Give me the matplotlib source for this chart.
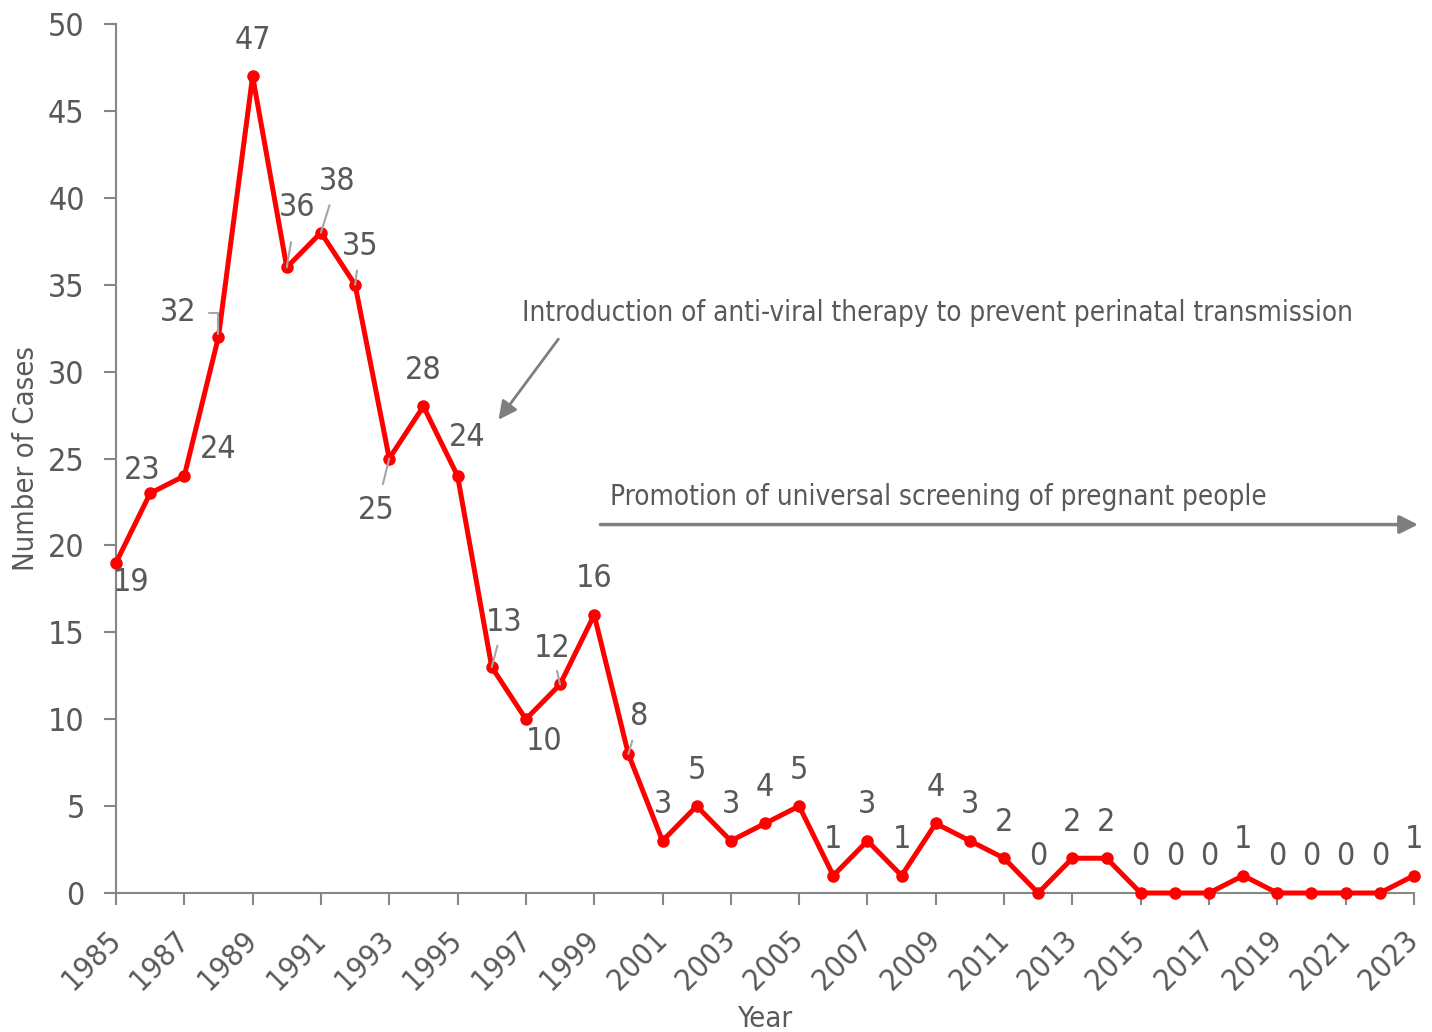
"""
Perinatal cases by year, 1985-2023
"""

import matplotlib
matplotlib.use('Agg')
import matplotlib.pyplot as plt
from matplotlib import font_manager

years = list(range(1985, 2024))
cases = [19, 23, 24, 32, 47, 36, 38, 35, 25, 28,
         24, 13, 10, 12, 16, 8, 3, 5, 3, 4,
         5, 1, 3, 1, 4, 3, 2, 0, 2, 2,
         0, 0, 0, 1, 0, 0, 0, 0, 1]

# label offsets in pixels (dx, dy); default sits above the point
label_offsets = {
    1985: (15, -20), 1986: (-8, 23), 1987: (34, 26), 1988: (-40, 24),
    1990: (10, 60), 1991: (16, 51), 1992: (5, 38), 1993: (-13, -52),
    1995: (10, 38), 1996: (12, 45), 1997: (18, -22), 1998: (-8, 36),
    2000: (11, 37),
}
# leader lines: year -> gap (points) left between label and line
leader_gap = {1990: 12, 1991: 4, 1992: 4, 1993: 6, 1996: 4, 1998: 3, 2000: 4}

therapy_text = 'Introduction of anti-viral therapy to prevent perinatal transmission'
screening_text = 'Promotion of universal screening of pregnant people'

TEXT = '#595959'
AXIS = '#868686'
RED = '#FF0000'

# the original uses a narrow font; take one if there is any, else Liberation Sans
narrow = [f for f in font_manager.fontManager.ttflist
          if ('Narrow' in f.name or 'Condensed' in f.name
              or f.stretch in ('condensed', 'semi-condensed', 'extra-condensed'))
          and 'Mono' not in f.name and 'Serif' not in f.name]
if narrow:
    plt.rcParams['font.family'] = [narrow[0].name, 'DejaVu Sans']
    plt.rcParams['font.stretch'] = narrow[0].stretch
    scale = 1.0
else:
    plt.rcParams['font.family'] = ['Liberation Sans', 'DejaVu Sans']
    scale = 1.05

fs_ytick = 23 * scale
fs_xtick = 22 * scale
fs_label = 21 * scale
fs_note = 20 * scale
fs_data = 23 * scale

fig = plt.figure(figsize=(14.32, 10.32), dpi=100)
ax = fig.add_axes([0.081, 0.1347, 0.9064, 0.842])

ax.plot(years, cases, color=RED, linewidth=3.6, marker='o', markersize=8,
        solid_joinstyle='round', clip_on=False, zorder=3)

for yr, v in zip(years, cases):
    dx, dy = label_offsets.get(yr, (0, 36))
    if yr == 1988:
        # elbow leader
        ax.annotate(str(v), xy=(yr, v), xytext=(dx, dy), textcoords='offset pixels',
                    ha='center', va='center', fontsize=fs_data, color=TEXT,
                    arrowprops=dict(arrowstyle='-', color='#A6A6A6', lw=1.5,
                                    shrinkA=7, shrinkB=2,
                                    connectionstyle='angle,angleA=0,angleB=90,rad=0'))
    elif yr in leader_gap:
        ax.annotate(str(v), xy=(yr, v), xytext=(dx, dy), textcoords='offset pixels',
                    ha='center', va='center', fontsize=fs_data, color=TEXT,
                    arrowprops=dict(arrowstyle='-', color='#A6A6A6', lw=1.5,
                                    shrinkA=leader_gap[yr], shrinkB=0))
    else:
        ax.annotate(str(v), xy=(yr, v), xytext=(dx, dy), textcoords='offset pixels',
                    ha='center', va='center', fontsize=fs_data, color=TEXT)

# annotations
ax.annotate('', xy=(1996.15, 27.1), xytext=(1998.0, 32.0),
            arrowprops=dict(arrowstyle='-|>,head_width=0.55,head_length=1.1',
                            color='#7F7F7F', lw=2))
ax.text(1996.9, 33.4, therapy_text, fontsize=fs_note, color=TEXT, ha='left', va='center')

ax.annotate('', xy=(2023.2, 21.2), xytext=(1999.1, 21.2),
            arrowprops=dict(arrowstyle='-|>,head_width=0.55,head_length=1.1',
                            color='#7F7F7F', lw=2.5), annotation_clip=False)
ax.text(1999.46, 22.8, screening_text, fontsize=fs_note, color=TEXT, ha='left', va='center')

ax.set_xlim(1985, 2023)
ax.set_ylim(0, 50)
ax.set_xticks(years[::2])
ax.set_yticks(range(0, 51, 5))
ax.tick_params(axis='both', direction='out', length=8.5, width=1.5, color=AXIS,
               labelcolor=TEXT)
ax.tick_params(axis='y', labelsize=fs_ytick, pad=14)
ax.tick_params(axis='x', labelsize=fs_xtick, pad=22)
for lab in ax.get_xticklabels():
    lab.set_rotation(45)
    lab.set_ha('right')
    lab.set_va('center')
    lab.set_rotation_mode('anchor')

for side in ['top', 'right']:
    ax.spines[side].set_visible(False)
for side in ['left', 'bottom']:
    ax.spines[side].set_color(AXIS)
    ax.spines[side].set_linewidth(1.5)

ax.set_ylabel('Number of Cases', fontsize=fs_label, color=TEXT, labelpad=6)
ax.set_xlabel('Year', fontsize=fs_label, color=TEXT, labelpad=7)

fig.savefig('out.png', dpi=100)
